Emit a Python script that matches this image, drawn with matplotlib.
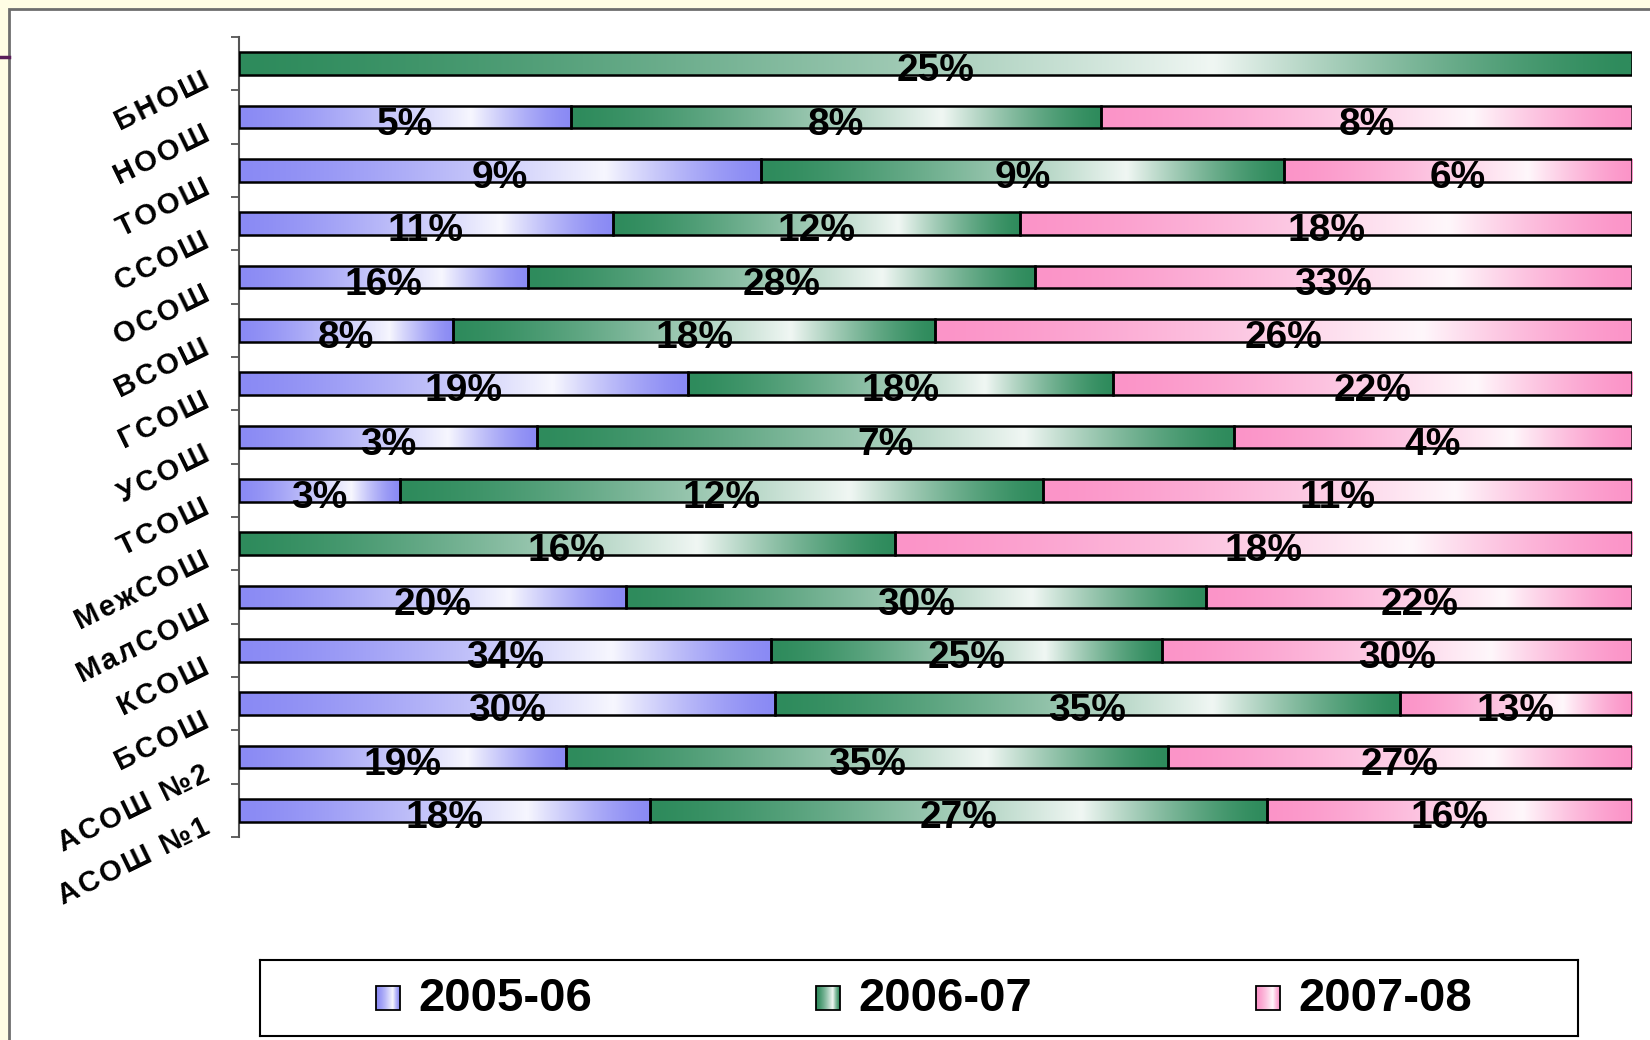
import numpy as np
import matplotlib
matplotlib.use('Agg')
import matplotlib.pyplot as plt
from matplotlib.patches import Rectangle
from matplotlib.lines import Line2D
from matplotlib.colors import to_rgb
import matplotlib.transforms as mtransforms

plt.rcParams['font.family'] = ['Liberation Sans', 'DejaVu Sans']
plt.rcParams['font.weight'] = 'bold'

# ── Data (top to bottom) ───────────────────────────────────────────────────────
SCHOOLS = ['БНОШ', 'НООШ', 'ТООШ', 'ССОШ', 'ОСОШ', 'ВСОШ', 'ГСОШ', 'УСОШ',
           'ТСОШ', 'МежСОШ', 'МалСОШ', 'КСОШ', 'БСОШ', 'АСОШ №2', 'АСОШ №1']
Y2005 = [0, 5, 9, 11, 16, 8, 19, 3, 3, 0, 20, 34, 30, 19, 18]
Y2006 = [25, 8, 9, 12, 28, 18, 18, 7, 12, 16, 30, 25, 35, 35, 27]
Y2007 = [0, 8, 6, 18, 33, 26, 22, 4, 11, 18, 22, 30, 13, 27, 16]
SERIES = ['2005-06', '2006-07', '2007-08']
COLORS = ['#8a8af4', '#2e8b5c', '#fb94c8']

W, H = 1650, 1040


def gradient(base, n=256):
    t = np.linspace(0, 1, n)
    w = np.where(t < 0.7, t / 0.7, (1 - t) / 0.3)
    w = np.clip(w, 0, 1) ** 1.4 * 0.93
    b = np.array(to_rgb(base))
    return (b[None, :] * (1 - w[:, None]) + w[:, None])[None, :, :]


def spaced(s):
    # the source labels are set with slightly loose letter spacing
    return '\u200a'.join(s)


fig = plt.figure(figsize=(W / 100, H / 100), dpi=100)
fig.patch.set_facecolor('#fffde4')
fig.add_artist(Rectangle((9 / W, -0.05), 1.2, 1.05 - 9 / H, transform=fig.transFigure,
                         facecolor='white', edgecolor='#6e6e6e', lw=2, zorder=0))
fig.add_artist(Line2D([0, 9 / W], [1 - 57 / H] * 2, transform=fig.transFigure,
                      color='#5a1e5a', lw=2.5))

ax = fig.add_axes([239 / W, 1 - 837 / H, (1632 - 239) / W, 800 / H])
ax.set_facecolor('none')

data = np.array([Y2005, Y2006, Y2007], dtype=float)
share = data / data.sum(axis=0)
y = np.arange(len(SCHOOLS))
left = np.zeros(len(SCHOOLS))

for s in range(3):
    bars = ax.barh(y, share[s], left=left, height=0.43, facecolor='none',
                   edgecolor='black', linewidth=1.8, zorder=3)
    grad = gradient(COLORS[s])
    for i, patch in enumerate(bars.patches):
        if data[s, i] == 0:
            patch.set_visible(False)
            continue
        x0, x1 = left[i], left[i] + share[s, i]
        im = ax.imshow(grad, extent=(x0, x1, y[i] + 0.215, y[i] - 0.215),
                       aspect='auto', interpolation='bilinear', zorder=2)
        im.set_clip_path(patch)
        ax.text((x0 + x1) / 2, y[i] + 0.33, f"{int(data[s, i])}%", ha='center',
                va='baseline', fontsize=28, fontweight='bold', color='black', zorder=5)
    left += share[s]

ax.set_xlim(0, 1)
ax.set_ylim(len(SCHOOLS) - 0.5, -0.5)
ax.set_aspect('auto')
for side in ['top', 'right', 'bottom']:
    ax.spines[side].set_visible(False)
ax.spines['left'].set_color('#555555')
ax.spines['left'].set_linewidth(1.5)
ax.set_xticks([])
ax.set_yticks(y)
ax.set_yticklabels([spaced(s) for s in SCHOOLS], rotation=26, ha='right', va='top',
                   fontsize=21, fontweight='bold')
ax.tick_params(axis='y', which='major', length=0, pad=18)
ax.set_yticks(np.arange(len(SCHOOLS) + 1) - 0.5, minor=True)
ax.tick_params(axis='y', which='minor', length=6, width=1.3, color='#555555',
               direction='out')
shift = mtransforms.ScaledTranslation(0, -3 / 100, fig.dpi_scale_trans)
for lbl in ax.get_yticklabels():
    lbl.set_transform(lbl.get_transform() + shift)

# ── Legend ─────────────────────────────────────────────────────────────────────
lx0, lx1, ly0, ly1 = 260, 1578, 960, 1036
lax = fig.add_axes([lx0 / W, 1 - ly1 / H, (lx1 - lx0) / W, (ly1 - ly0) / H])
lax.set_xticks([])
lax.set_yticks([])
for sp in lax.spines.values():
    sp.set_linewidth(1.5)
    sp.set_color('black')
for k, name in enumerate(SERIES):
    mx = 116 + k * 440
    sq = Rectangle((mx, 26), 24, 24, facecolor='none', edgecolor='black', lw=1.3, zorder=3)
    lax.add_patch(sq)
    g = gradient(COLORS[k])
    im = lax.imshow(g, extent=(mx, mx + 24, 50, 26), aspect='auto',
                    interpolation='bilinear', zorder=2)
    im.set_clip_path(sq)
    lax.text(mx + 42, 39, name, ha='left', va='center', fontsize=34, fontweight='bold')
lax.set_xlim(0, lx1 - lx0)
lax.set_ylim(ly1 - ly0, 0)

fig.savefig('out.png', dpi=100, facecolor=fig.get_facecolor())
